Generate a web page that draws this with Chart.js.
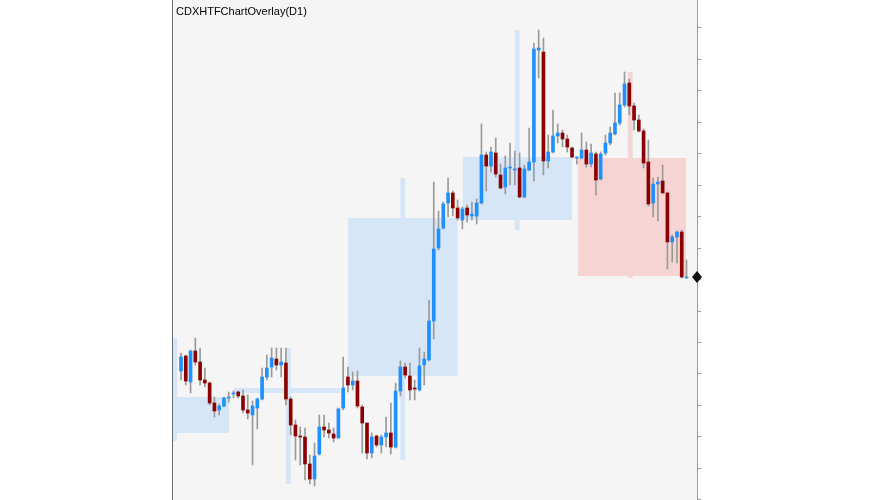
<!DOCTYPE html>
<html>
<head>
<meta charset="utf-8">
<script src="https://cdn.jsdelivr.net/npm/chart.js@4"></script>
<style>
  body { margin: 0; background: #fff; }
  canvas { display: block; }
</style>
</head>
<body>
<canvas id="chart" width="870" height="500"></canvas>
<script>
// Daily candles (price rows, axis reversed: smaller = higher)
const OPEN  = [371,356,382,351,362,380,383,403,410,406,398,394,392,396,410,415,408,399,377,367,359,365,363,399,425,436,437,464,479,454,427,430,434,438,408,377,385,381,407,423,453,436,445,437,433,447,391,367,376,388,390,365,360,321,248,228,203,193,208,220,208,216,216,203,155,166,153,175,187,168,170,168,197,170,162,50,52,161,152,136,133,139,148,158,158,150,164,154,179,153,143,134,123,105,83,106,120,131,162,203,184,181,193,242,237,232,278];
const HIGH  = [353,355,350,338,348,368,382,397,404,397,392,391,391,390,395,401,398,368,355,348,348,348,348,397,420,427,428,455,443,415,415,423,428,408,357,367,372,371,405,423,433,435,435,417,403,383,361,363,363,380,348,352,300,182,211,202,178,191,200,207,205,202,199,124,152,147,138,164,156,143,151,153,165,128,43,30,38,135,110,124,130,135,147,157,133,142,144,152,152,135,127,93,93,72,79,103,115,129,140,178,177,165,192,235,231,230,260];
const LOW   = [380,385,393,365,385,387,405,417,415,407,402,398,398,413,419,465,429,400,380,377,370,377,405,435,460,465,480,484,486,455,437,438,442,438,410,392,390,408,453,459,458,447,453,447,454,448,396,378,400,400,391,385,361,339,250,229,217,216,220,229,222,220,224,204,191,172,177,189,194,185,185,198,198,171,181,78,175,168,153,143,147,152,158,164,159,167,167,195,180,155,145,135,125,107,115,130,132,168,206,217,221,193,269,262,263,278,278];
const CLOSE = [357,381,351,362,380,383,403,411,406,398,397,393,396,410,413,406,399,377,368,358,365,362,399,425,436,437,464,479,456,427,430,433,438,409,388,385,381,406,423,453,437,445,437,433,447,391,367,375,390,389,366,359,321,249,229,204,193,208,218,209,215,214,203,155,166,152,174,188,168,168,170,197,169,162,49,48,161,152,136,133,139,147,157,157,150,164,153,180,154,143,133,123,105,84,106,120,131,163,204,184,182,193,242,237,232,277,277];

// Higher-timeframe candles (x in daily candle index units)
const BOX_START = [-1.9, 11.1, 35.0, 59.1, 83.2];
const BOX_END   = [10.1, 33.3, 58.0, 82.0, 105.9];
const BOX_WICK  = [-1.3, 22.5, 46.5, 70.5, 94.2];
const BOX_OPEN  = [433, 393, 376, 220, 158];
const BOX_CLOSE = [397, 388, 218, 157, 276];
const BOX_HIGH  = [338, 348, 178, 30, 72];
const BOX_LOW   = [441, 484, 460, 230, 278];

const PRICE_TICKS = [27,59,90,122,153,185,216,248,279,311,342,373,405,436,468,499];
const TITLE = "CDXHTFChartOverlay(D1)";

const UP = "#1e90ff", DOWN = "#8b0000", WICK = "#9a9a9a";
const BOX_UP = "rgba(214,230,247,1)", BOX_DOWN = "rgba(247,212,212,1)";

const wicks = OPEN.map((o, i) => ({ x: i, y: [HIGH[i], LOW[i]] }));
const bodies = OPEN.map((o, i) => ({ x: i, y: [o, CLOSE[i]] }));
const bodyColors = OPEN.map((o, i) => CLOSE[i] > o ? DOWN : UP);

const overlay = {
  id: "overlay",
  beforeDraw(chart) {
    const { ctx, chartArea: a } = chart;
    ctx.save();
    ctx.fillStyle = "#f5f5f5";
    ctx.fillRect(a.left, a.top, a.right - a.left, a.bottom - a.top);
    ctx.restore();
  },
  beforeDatasetsDraw(chart) {
    const { ctx, chartArea: a, scales: { x, y } } = chart;
    ctx.save();
    ctx.beginPath();
    ctx.rect(a.left, a.top, a.right - a.left, a.bottom - a.top);
    ctx.clip();
    BOX_START.forEach((s, i) => {
      ctx.fillStyle = BOX_CLOSE[i] > BOX_OPEN[i] ? BOX_DOWN : BOX_UP;
      const wl = x.getPixelForValue(BOX_WICK[i] - 0.5), wr = x.getPixelForValue(BOX_WICK[i] + 0.5);
      const wt = y.getPixelForValue(BOX_HIGH[i]), wb = y.getPixelForValue(BOX_LOW[i]);
      ctx.fillRect(wl, wt, wr - wl, wb - wt);
      const l = x.getPixelForValue(s), r = x.getPixelForValue(BOX_END[i]);
      const t = y.getPixelForValue(Math.min(BOX_OPEN[i], BOX_CLOSE[i]));
      const b = y.getPixelForValue(Math.max(BOX_OPEN[i], BOX_CLOSE[i]));
      ctx.fillRect(l, t, r - l, b - t);
    });
    ctx.restore();
  },
  afterDraw(chart) {
    const { ctx, chartArea: a, scales: { y } } = chart;
    ctx.save();
    ctx.strokeStyle = "#6b6b6b";
    ctx.lineWidth = 1;
    ctx.beginPath();
    ctx.moveTo(a.left + 0.5, a.bottom);
    ctx.lineTo(a.left + 0.5, a.top);
    ctx.stroke();
    ctx.strokeStyle = "#9a9a9a";
    ctx.beginPath();
    ctx.moveTo(a.right + 0.5, a.top);
    ctx.lineTo(a.right + 0.5, a.bottom);
    PRICE_TICKS.forEach(v => {
      const py = Math.round(y.getPixelForValue(v)) + 0.5;
      ctx.moveTo(a.right, py);
      ctx.lineTo(a.right + 4, py);
    });
    ctx.stroke();
    // last price marker
    const py = y.getPixelForValue(CLOSE[CLOSE.length - 1]);
    ctx.fillStyle = "#111";
    ctx.beginPath();
    ctx.moveTo(a.right - 5, py);
    ctx.lineTo(a.right, py - 6);
    ctx.lineTo(a.right + 5, py);
    ctx.lineTo(a.right, py + 6);
    ctx.closePath();
    ctx.fill();
    ctx.fillStyle = "#000";
    ctx.font = "11px 'Liberation Sans', Arial, sans-serif";
    ctx.textBaseline = "middle";
    ctx.fillText(TITLE, a.left + 4, 12);
    ctx.restore();
  }
};

new Chart(document.getElementById("chart"), {
  type: "bar",
  data: {
    datasets: [
      { data: wicks, backgroundColor: WICK, barThickness: 1, grouped: false, order: 2 },
      { data: bodies, backgroundColor: bodyColors, barThickness: 3, minBarLength: 1, grouped: false, order: 1 }
    ]
  },
  options: {
    responsive: false,
    animation: false,
    devicePixelRatio: 1,
    layout: { padding: { left: 172, right: 173, top: 0, bottom: 0 } },
    plugins: { legend: { display: false }, tooltip: { enabled: false } },
    scales: {
      x: { type: "linear", offset: false, min: -1.89, max: 108.2, display: false },
      y: { min: 0, max: 500, reverse: true, display: false }
    }
  },
  plugins: [overlay]
});
</script>
</body>
</html>
